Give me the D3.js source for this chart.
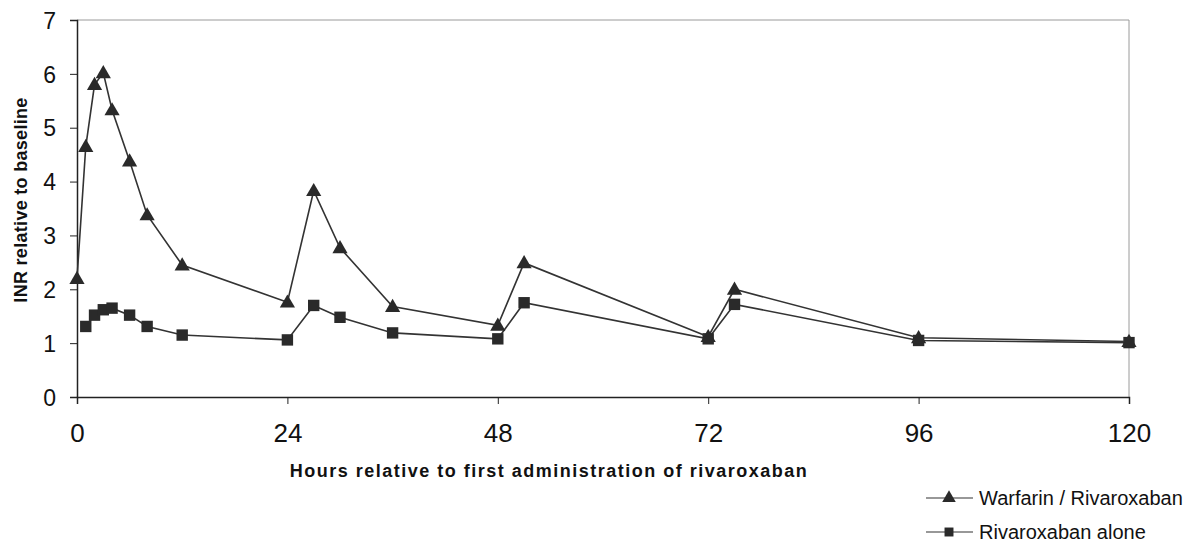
<!DOCTYPE html>
<html>
<head>
<meta charset="utf-8">
<script src="https://cdn.jsdelivr.net/npm/d3@7"></script>
<style>
  body { margin: 0; background: #fff; }
  svg { font-family: "Liberation Sans", Arial, sans-serif; }
</style>
</head>
<body>
<svg id="chart" width="1201" height="543"></svg>
<script>
// data
var warfarinHours = [0, 1, 2, 3, 4, 6, 8, 12, 24, 27, 30, 36, 48, 51, 72, 75, 96, 120];
var warfarinINR   = [2.2, 4.65, 5.8, 6.02, 5.33, 4.38, 3.38, 2.45, 1.76, 3.83, 2.77, 1.68, 1.33, 2.49, 1.12, 2.0, 1.1, 1.03];
var aloneHours = [1, 2, 3, 4, 6, 8, 12, 24, 27, 30, 36, 48, 51, 72, 75, 96, 120];
var aloneINR   = [1.31, 1.52, 1.62, 1.65, 1.52, 1.31, 1.15, 1.06, 1.7, 1.48, 1.19, 1.08, 1.75, 1.08, 1.72, 1.05, 1.01];
var xTicks = [0, 24, 48, 72, 96, 120];
var yTicks = [0, 1, 2, 3, 4, 5, 6, 7];
var seriesNames = ["Warfarin / Rivaroxaban", "Rivaroxaban alone"];

(function(){
  var svg = d3.select('#chart');
  var pLeft = 77, pRight = 1129, pTop = 20, pBottom = 397;

  var x = d3.scaleLinear().domain([0, 120]).range([pLeft, pRight]);
  var y = d3.scaleLinear().domain([0, 7]).range([pBottom, pTop]);

  // top / right frame
  svg.append('path')
    .attr('d', 'M' + pLeft + ',' + pTop + 'H' + pRight + 'V' + pBottom)
    .attr('fill', 'none')
    .attr('stroke', '#9a9a9a')
    .attr('stroke-width', 1);

  var xAxis = svg.append('g')
    .attr('transform', 'translate(0,' + pBottom + ')')
    .call(d3.axisBottom(x).tickValues(xTicks).tickFormat(d3.format('d')).tickSize(7).tickPadding(20));
  var yAxis = svg.append('g')
    .attr('transform', 'translate(' + pLeft + ',0)')
    .call(d3.axisLeft(y).tickValues(yTicks).tickFormat(d3.format('d')).tickSize(7).tickPadding(14));

  [xAxis, yAxis].forEach(function(a){
    a.select('.domain').attr('stroke', '#222').attr('stroke-width', 1.5);
    a.selectAll('.tick line').attr('stroke', '#222');
    a.selectAll('.tick text')
      .attr('fill', '#111')
      .style('font-family', '"Liberation Sans", Arial, sans-serif');
  });
  xAxis.selectAll('.tick text').style('font-size', '26px');
  yAxis.selectAll('.tick text').style('font-size', '23px').attr('dy', '0.36em');

  svg.append('text')
    .attr('x', 549).attr('y', 477)
    .attr('text-anchor', 'middle')
    .style('font-size', '18px').style('font-weight', 'bold')
    .style('letter-spacing', '1.5px')
    .attr('fill', '#111')
    .text('Hours relative to first administration of rivaroxaban');

  svg.append('text')
    .attr('transform', 'translate(27,' + 200 + ') rotate(-90)')
    .attr('text-anchor', 'middle')
    .style('font-size', '18px').style('font-weight', 'bold')
    .style('letter-spacing', '0.3px')
    .attr('fill', '#111')
    .text('INR relative to baseline');

  var line = d3.line()
    .x(function(d){ return x(d[0]); })
    .y(function(d){ return y(d[1]); });

  var warfarinData = d3.zip(warfarinHours, warfarinINR);
  var aloneData = d3.zip(aloneHours, aloneINR);

  var triangle = d3.symbol().type(d3.symbolTriangle).size(100);
  var square = d3.symbol().type(d3.symbolSquare).size(130);

  function drawSeries(data, sym, dy) {
    svg.append('path')
      .datum(data)
      .attr('d', line)
      .attr('fill', 'none')
      .attr('stroke', '#333')
      .attr('stroke-width', 1.6);
    svg.selectAll(null)
      .data(data)
      .enter()
      .append('path')
        .attr('d', sym)
        .attr('transform', function(d){ return 'translate(' + x(d[0]) + ',' + (y(d[1]) + dy) + ')'; })
        .attr('fill', '#2a2a2a');
  }

  drawSeries(aloneData, square, 0);
  drawSeries(warfarinData, triangle, 1);

  // legend
  var legend = svg.append('g');
  var legendRows = [
    { name: seriesNames[0], sym: d3.symbol().type(d3.symbolTriangle).size(80), y: 498 },
    { name: seriesNames[1], sym: d3.symbol().type(d3.symbolSquare).size(80), y: 532 }
  ];
  legendRows.forEach(function(r){
    legend.append('line')
      .attr('x1', 926).attr('x2', 973)
      .attr('y1', r.y).attr('y2', r.y)
      .attr('stroke', '#333').attr('stroke-width', 1.2);
    legend.append('path')
      .attr('d', r.sym)
      .attr('transform', 'translate(949,' + r.y + ')')
      .attr('fill', '#2a2a2a');
    legend.append('text')
      .attr('x', 979).attr('y', r.y)
      .attr('dy', '0.35em')
      .style('font-size', '20px')
      .attr('fill', '#111')
      .text(r.name);
  });
})();
</script>
</body>
</html>
